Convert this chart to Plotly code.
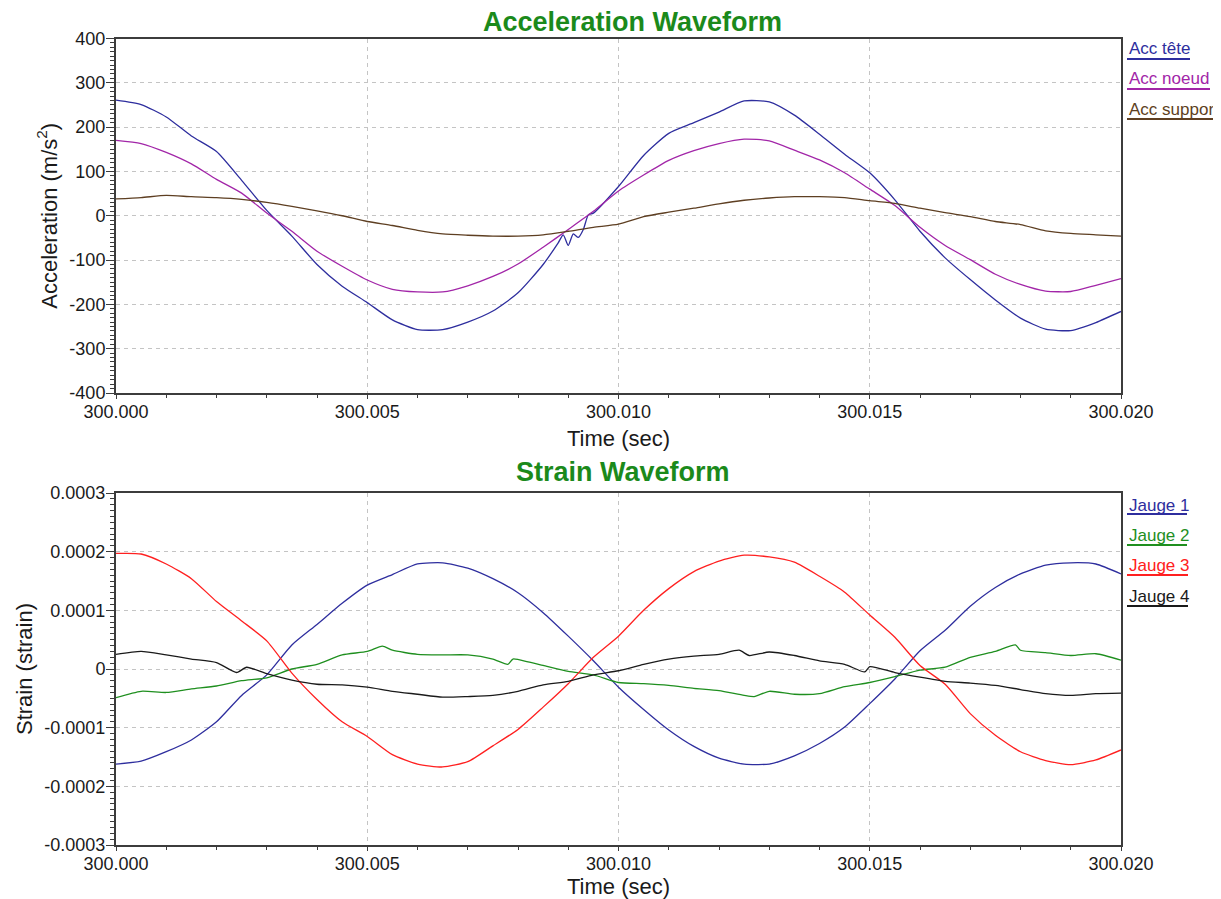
import plotly.graph_objects as go

# ---------------- data (time offsets in ms after 300 s) ----------------
T_STD = [0, 0.5, 1, 1.5, 2, 2.5, 3, 3.5, 4, 4.5, 5, 5.5, 6, 6.5, 7, 7.5, 8, 8.5,
         9, 9.5, 10, 10.5, 11, 11.5, 12, 12.5, 13, 13.5, 14, 14.5, 15, 15.5, 16,
         16.5, 17, 17.5, 18, 18.5, 19, 19.5, 20]

T_ACC_TETE = [0, 0.5, 1, 1.5, 2, 2.5, 3, 3.5, 4, 4.5, 5, 5.5, 6, 6.5, 7, 7.5, 8, 8.5,
              8.8, 8.9, 9.0, 9.1, 9.2, 9.3, 9.4, 9.5, 10, 10.5, 11, 11.5, 12, 12.5,
              13, 13.5, 14, 14.5, 15, 15.5, 16, 16.5, 17, 17.5, 18, 18.5, 19, 19.5, 20]
ACC_TETE = [261, 251, 223, 180, 145, 80, 12, -46, -110, -159, -196, -235, -257, -257,
            -240, -215, -174, -110, -61, -43, -67, -41, -49, -31, 2, 6, 66, 136, 186,
            210, 234, 259, 257, 227, 184, 139, 97, 36, -35, -95, -144, -190, -231,
            -256, -259, -241, -216]

ACC_NOEUD = [170, 163, 143, 117, 82, 51, 6, -35, -80, -114, -145, -166, -172, -172,
             -158, -137, -109, -71, -31, 10, 56, 92, 125, 147, 163, 173, 169, 148, 126,
             97, 60, 23, -26, -67, -99, -132, -155, -170, -171, -157, -142]

ACC_SUPPORT = [38, 41, 46, 43, 41, 37, 30, 21, 11, 0, -13, -22, -33, -41, -44, -46, -46,
               -43, -35, -26, -19, -2, 8, 17, 27, 35, 40, 43, 43, 41, 34, 28, 17, 7, -2,
               -13, -20, -34, -40, -43, -46]

JAUGE_1 = [-16.2, -15.7, -14.1, -12.1, -9.0, -4.5, -1.0, 4.1, 7.6, 11.2, 14.3, 16.1,
           17.9, 18.1, 17.2, 15.4, 13.0, 9.6, 5.6, 1.4, -3.1, -6.9, -10.4, -13.2, -15.2,
           -16.2, -16.2, -14.8, -12.7, -9.9, -5.9, -1.7, 3.1, 6.6, 10.7, 13.9, 16.2,
           17.7, 18.1, 17.9, 16.2]

T_JAUGE_2 = [0, 0.5, 1, 1.5, 2, 2.5, 3, 3.5, 4, 4.5, 5, 5.3, 5.5, 6, 6.5, 7, 7.5, 7.8,
             7.9, 8.2, 8.5, 9, 9.5, 10, 10.5, 11, 11.5, 12, 12.5, 12.7, 13, 13.5, 14,
             14.5, 15, 15.5, 16, 16.5, 17, 17.5, 17.9, 18, 18.5, 19, 19.5, 20]
JAUGE_2 = [-4.9, -3.8, -4.0, -3.4, -2.9, -2.0, -1.5, 0.0, 0.8, 2.4, 3.0, 3.9, 3.2, 2.5,
           2.4, 2.4, 1.7, 0.8, 1.7, 1.2, 0.6, -0.4, -1.0, -2.3, -2.5, -2.8, -3.3, -3.7,
           -4.5, -4.7, -3.8, -4.3, -4.2, -3.0, -2.3, -1.3, -0.2, 0.3, 2.0, 3.0, 4.1, 3.2,
           2.8, 2.3, 2.6, 1.5]

JAUGE_3 = [19.7, 19.6, 17.9, 15.4, 11.5, 8.2, 4.8, -0.7, -5.2, -9.0, -11.5, -14.6,
           -16.2, -16.7, -15.8, -13.1, -10.3, -6.5, -2.5, 2.0, 5.6, 10.0, 13.7, 16.6,
           18.4, 19.4, 19.1, 18.2, 15.8, 13.1, 9.2, 5.4, 0.6, -2.6, -7.6, -11.3, -14.1,
           -15.6, -16.3, -15.5, -13.8]

T_JAUGE_4 = [0, 0.5, 1, 1.5, 2, 2.4, 2.6, 3, 3.5, 4, 4.5, 5, 5.5, 6, 6.5, 7, 7.5, 8,
             8.5, 9, 9.5, 10, 10.5, 11, 11.5, 12, 12.4, 12.6, 13, 13.5, 14, 14.5, 14.9,
             15.0, 15.5, 16, 16.5, 17, 17.5, 18, 18.5, 19, 19.5, 20]
JAUGE_4 = [2.5, 3.0, 2.4, 1.7, 1.1, -0.6, 0.3, -0.8, -1.9, -2.6, -2.7, -3.1, -3.8, -4.3,
           -4.8, -4.7, -4.5, -3.8, -2.7, -2.1, -1.0, -0.3, 0.8, 1.7, 2.2, 2.5, 3.2, 2.3,
           2.9, 2.3, 1.4, 0.8, -0.5, 0.4, -0.6, -1.4, -2.1, -2.4, -2.8, -3.5, -4.2, -4.5,
           -4.2, -4.1]

STRAIN_SCALE = 1e-5  # strain values above are in units of 1e-5

X_TICKS = [300.000, 300.005, 300.010, 300.015, 300.020]
X_TICK_TEXT = ["300.000", "300.005", "300.010", "300.015", "300.020"]
ACC_TICKS = [-400, -300, -200, -100, 0, 100, 200, 300, 400]
ACC_TICK_TEXT = ["-400", "-300", "-200", "-100", "0", "100", "200", "300", "400"]
STRAIN_TICKS = [-0.0003, -0.0002, -0.0001, 0, 0.0001, 0.0002, 0.0003]
STRAIN_TICK_TEXT = ["-0.0003", "-0.0002", "-0.0001", "0", "0.0001", "0.0002", "0.0003"]

ACC_NAMES = ["Acc tête", "Acc noeud", "Acc support"]
ACC_COLORS = ["#2e2e9e", "#a226a8", "#5e3f22"]
STRAIN_NAMES = ["Jauge 1", "Jauge 2", "Jauge 3", "Jauge 4"]
STRAIN_COLORS = ["#2e2e9e", "#1f8f1f", "#ff2020", "#1a1a1a"]


def to_x(ts):
    return [300 + t / 1000.0 for t in ts]


# page has an 8 px body margin: the figure is drawn from (8, 8) in the window
OFF = 8
W, H = 1213, 891
FONT = "Arial, Liberation Sans, sans-serif"

fig = go.Figure()

acc_series = [(T_ACC_TETE, ACC_TETE), (T_STD, ACC_NOEUD), (T_STD, ACC_SUPPORT)]
for (ts, vs), name, col in zip(acc_series, ACC_NAMES, ACC_COLORS):
    fig.add_trace(go.Scatter(x=to_x(ts), y=vs, mode="lines", name=name,
                             line=dict(color=col, width=1.3, shape="spline", smoothing=0.6),
                             xaxis="x", yaxis="y", showlegend=False))

strain_series = [(T_STD, JAUGE_1), (T_JAUGE_2, JAUGE_2), (T_STD, JAUGE_3), (T_JAUGE_4, JAUGE_4)]
for (ts, vs), name, col in zip(strain_series, STRAIN_NAMES, STRAIN_COLORS):
    fig.add_trace(go.Scatter(x=to_x(ts), y=[v * STRAIN_SCALE for v in vs], mode="lines",
                             name=name,
                             line=dict(color=col, width=1.3, shape="spline", smoothing=0.6),
                             xaxis="x2", yaxis="y2", showlegend=False))

# plot-area geometry (window pixels)
L, R = 116, 1121
TOP1, BOT1 = 38.5, 393
TOP2, BOT2 = 493, 845


def py(pix):
    return 1 - (pix - OFF) / H


def px(pix):
    return (pix - OFF) / W


tick_font = dict(family=FONT, size=18, color="#1a1a1a")
title_font = dict(family=FONT, size=22, color="#1a1a1a")

common_axis = dict(
    showline=True, mirror=True, linecolor="#3c3c3c", linewidth=2,
    showgrid=True, gridcolor="#c4c4c4", griddash="4px,4px", gridwidth=1,
    zeroline=False, ticks="outside", ticklen=8, tickwidth=1, tickcolor="#3c3c3c",
    tickfont=tick_font, automargin=False,
)

xaxis_common = dict(common_axis, range=[300.0, 300.02], tickmode="array",
                    tickvals=X_TICKS, ticktext=X_TICK_TEXT, ticklen=4,
                    ticklabelstandoff=-3,
                    minor=dict(tickmode="linear", tick0=300.0, dtick=0.001, ticklen=3,
                               ticks="outside", tickcolor="#3c3c3c", showgrid=False))

fig.update_layout(
    width=W, height=H,
    margin=dict(l=0, r=0, t=0, b=0),
    paper_bgcolor="white", plot_bgcolor="white",
    font=dict(family=FONT),
    xaxis=dict(xaxis_common, domain=[px(L), px(R)], anchor="y",
               title=dict(text="Time (sec)", font=title_font, standoff=10)),
    yaxis=dict(common_axis, domain=[py(BOT1), py(TOP1)], anchor="x",
               range=[-400, 400], tickmode="array", tickvals=ACC_TICKS,
               ticktext=ACC_TICK_TEXT, ticklabelstandoff=-3,
               minor=dict(tickmode="linear", tick0=0, dtick=10, ticklen=4,
                          ticks="outside", tickcolor="#3c3c3c", showgrid=False),
               title=dict(text="Acceleration (m/s<sup>2</sup>)", font=title_font, standoff=6)),
    xaxis2=dict(xaxis_common, domain=[px(L), px(R)], anchor="y2",
                title=dict(text="Time (sec)", font=title_font, standoff=10)),
    yaxis2=dict(common_axis, domain=[py(BOT2), py(TOP2)], anchor="x2",
                range=[-0.0003, 0.0003], tickmode="array", tickvals=STRAIN_TICKS,
                ticktext=STRAIN_TICK_TEXT, ticklabelstandoff=-3,
                minor=dict(tickmode="linear", tick0=0, dtick=0.00001, ticklen=4,
                           ticks="outside", tickcolor="#3c3c3c", showgrid=False),
                title=dict(text="Strain (strain)", font=title_font, standoff=6)),
)

# chart titles
title_style = dict(family=FONT, size=27, color="#1b8a1b")
fig.add_annotation(text="<b>Acceleration Waveform</b>", xref="paper", yref="paper",
                   x=px(632), y=py(22), xanchor="center", yanchor="middle",
                   showarrow=False, font=title_style, borderpad=0)
fig.add_annotation(text="<b>Strain Waveform</b>", xref="paper", yref="paper",
                   x=px(623), y=py(472), xanchor="center", yanchor="middle",
                   showarrow=False, font=title_style, borderpad=0)

# legends: coloured text with coloured underline
legend_x = 1127
acc_leg = [(48, 59, 1190), (79, 89, 1210), (109, 119, 1221)]
for name, col, (ty, uy, ux) in zip(ACC_NAMES, ACC_COLORS, acc_leg):
    fig.add_annotation(text=name, xref="paper", yref="paper", x=px(legend_x), y=py(ty),
                       xanchor="left", yanchor="middle", showarrow=False,
                       font=dict(family=FONT, size=17, color=col))
    fig.add_shape(type="line", xref="paper", yref="paper", x0=px(legend_x), x1=px(ux),
                  y0=py(uy), y1=py(uy), line=dict(color=col, width=2))

strain_leg = [(505, 514, 1187), (535, 545, 1187), (565, 575, 1188), (596, 606, 1188)]
for name, col, (ty, uy, ux) in zip(STRAIN_NAMES, STRAIN_COLORS, strain_leg):
    fig.add_annotation(text=name, xref="paper", yref="paper", x=px(legend_x), y=py(ty),
                       xanchor="left", yanchor="middle", showarrow=False,
                       font=dict(family=FONT, size=17, color=col))
    fig.add_shape(type="line", xref="paper", yref="paper", x0=px(legend_x), x1=px(ux),
                  y0=py(uy), y1=py(uy), line=dict(color=col, width=2))

fig.write_html("out.html")
